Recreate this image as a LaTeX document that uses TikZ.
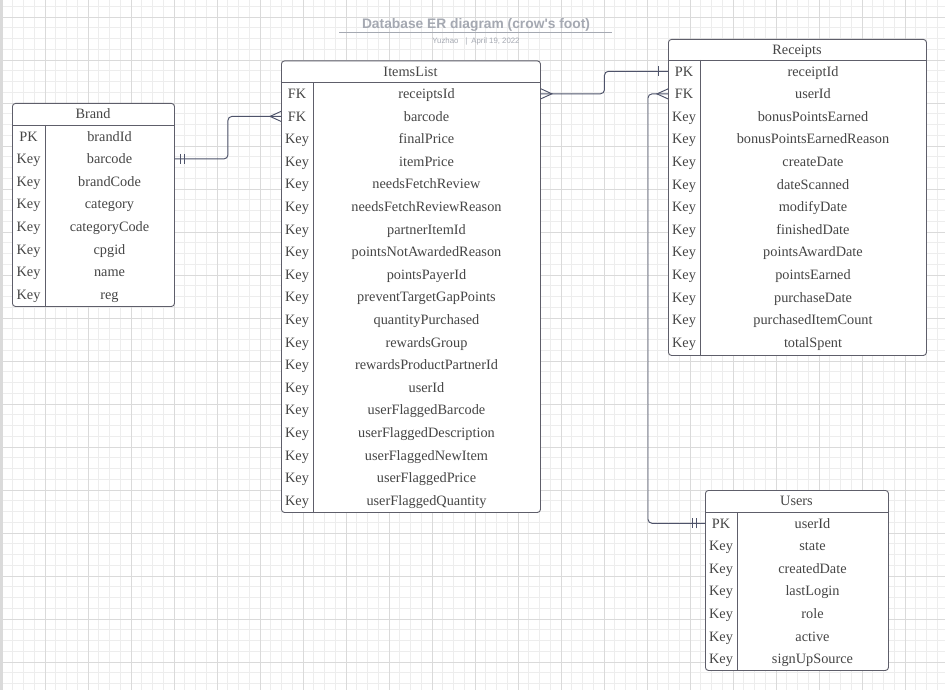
\documentclass[tikz,border=0pt]{standalone}
\usepackage{fontspec}
\setmainfont{Liberation Serif}
\newfontfamily\sansfont{Liberation Sans}
\usetikzlibrary{calc}

\definecolor{gridminor}{HTML}{EDEDED}
\definecolor{gridmajor}{HTML}{DADADA}
\definecolor{boxline}{HTML}{5E5E6A}
\definecolor{boxtext}{HTML}{454545}
\definecolor{linkline}{HTML}{4E536A}
\definecolor{titlegray}{HTML}{A5A9B2}

\def\rowh{22.6}

\begin{document}
\begin{tikzpicture}[x=1pt,y=-1pt]
\tikzstyle{tablebox}=[draw=boxline,fill=white,rounded corners=3pt,line width=0.9pt,inner sep=0pt,anchor=north west]
\tikzstyle{cell}=[text=boxtext,font=\fontsize{14.3}{16}\selectfont,inner sep=0pt,text height=9.5pt,text depth=0pt]
\tikzstyle{sep}=[draw=boxline,line width=0.9pt]
\tikzstyle{link}=[draw=linkline,line width=0.95pt]

\useasboundingbox (0,0) rectangle (945,690);
\fill[white] (0,0) rectangle (945,690);

% grid
\foreach \i in {0,...,87} \draw[gridminor,line width=0.8pt] (2+\i*10.75,0) -- ++(0,690);
\foreach \i in {-1,...,63} \draw[gridminor,line width=0.8pt] (0,17+\i*10.75) -- ++(945,0);
\foreach \i in {0,...,21} \draw[gridmajor,line width=0.9pt] (2+\i*43,0) -- ++(0,690);
\foreach \i in {0,...,15} \draw[gridmajor,line width=0.9pt] (0,17+\i*43) -- ++(945,0);
\fill[gridmajor] (0,0) rectangle (2.5,690);

% title
\node[font=\sansfont\bfseries\fontsize{13.8}{15}\selectfont,text=titlegray] (title) at (476,24.5) {Database ER diagram (crow's foot)};
\draw[titlegray,line width=1.4pt] (339,32.5) -- (612,32.5);
\node[font=\sansfont\fontsize{7.8}{9}\selectfont,text=titlegray] (byline) at (476,41.5) {Yuzhao\hspace{7pt}|\hspace{4pt}April 19, 2022};

% Brand
\node[tablebox,minimum width=162pt,minimum height=203pt] (brand) at (12,103) {};
\node[cell] (brand-h) at (93,114) {Brand};
\draw[sep] (12,125) -- (174,125);
\draw[sep] (45,125) -- (45,306);
\foreach \kname/\fname [count=\i] in {PK/brandId,Key/barcode,Key/brandCode,Key/category,Key/categoryCode,Key/cpgid,Key/name,Key/reg} {
  \node[cell] (brand-k\i) at (28.5,125+\rowh*\i-\rowh/2) {\kname};
  \node[cell] (brand-\i) at (109.5,125+\rowh*\i-\rowh/2) {\fname};
}

% ItemsList
\node[tablebox,minimum width=259pt,minimum height=451.5pt] (items) at (281,60.5) {};
\node[cell] (items-h) at (410.5,71.5) {ItemsList};
\draw[sep] (281,82.5) -- (540,82.5);
\draw[sep] (313,82.5) -- (313,512);
\foreach \kname/\fname [count=\i] in {FK/receiptsId,FK/barcode,Key/finalPrice,Key/itemPrice,Key/needsFetchReview,Key/needsFetchReviewReason,Key/partnerItemId,Key/pointsNotAwardedReason,Key/pointsPayerId,Key/preventTargetGapPoints,Key/quantityPurchased,Key/rewardsGroup,Key/rewardsProductPartnerId,Key/userId,Key/userFlaggedBarcode,Key/userFlaggedDescription,Key/userFlaggedNewItem,Key/userFlaggedPrice,Key/userFlaggedQuantity} {
  \node[cell] (items-k\i) at (297,82.5+\rowh*\i-\rowh/2) {\kname};
  \node[cell] (items-\i) at (426.5,82.5+\rowh*\i-\rowh/2) {\fname};
}

% Receipts
\node[tablebox,minimum width=258pt,minimum height=316pt] (receipts) at (668,39) {};
\node[cell] (receipts-h) at (797,49.5) {Receipts};
\draw[sep] (668,60) -- (926,60);
\draw[sep] (700,60) -- (700,355);
\foreach \kname/\fname [count=\i] in {PK/receiptId,FK/userId,Key/bonusPointsEarned,Key/bonusPointsEarnedReason,Key/createDate,Key/dateScanned,Key/modifyDate,Key/finishedDate,Key/pointsAwardDate,Key/pointsEarned,Key/purchaseDate,Key/purchasedItemCount,Key/totalSpent} {
  \node[cell] (receipts-k\i) at (684,60+\rowh*\i-\rowh/2) {\kname};
  \node[cell] (receipts-\i) at (813,60+\rowh*\i-\rowh/2) {\fname};
}

% Users
\node[tablebox,minimum width=183pt,minimum height=180pt] (users) at (705,490) {};
\node[cell] (users-h) at (796.5,501) {Users};
\draw[sep] (705,512) -- (888,512);
\draw[sep] (737,512) -- (737,670);
\foreach \kname/\fname [count=\i] in {PK/userId,Key/state,Key/createdDate,Key/lastLogin,Key/role,Key/active,Key/signUpSource} {
  \node[cell] (users-k\i) at (721,512+\rowh*\i-\rowh/2) {\kname};
  \node[cell] (users-\i) at (812.5,512+\rowh*\i-\rowh/2) {\fname};
}

% links
\draw[link,rounded corners=4pt] (brand.east |- brand-2) -| ($(brand.east |- brand-2)!0.5!(items.west |- items-2)$) |- (items.west |- items-2);
\draw[link] (brand.east |- brand-2) ++(6,-5) -- ++(0,10) ++(4,0) -- ++(0,-10);
\draw[link] (items.west |- items-2) ++(0,-5) -- ++(-11,5) -- ++(11,5);

\draw[link,rounded corners=4pt] (items.east |- items-1) -| ($(items.east |- items-1)!0.5!(receipts.west |- receipts-1)$) |- (receipts.west |- receipts-1);
\draw[link] (items.east |- items-1) ++(0,-5) -- ++(11,5) -- ++(-11,5);
\draw[link] (receipts.west |- receipts-1) ++(-10,-5) -- ++(0,10);

\draw[link,rounded corners=4pt] (receipts.west |- receipts-2) -- ++(-20,0) |- (users.west |- users-1);
\draw[link] (receipts.west |- receipts-2) ++(0,-5) -- ++(-11,5) -- ++(11,5);
\draw[link] (users.west |- users-1) ++(-13,-5) -- ++(0,10) ++(4,0) -- ++(0,-10);
\end{tikzpicture}
\end{document}
